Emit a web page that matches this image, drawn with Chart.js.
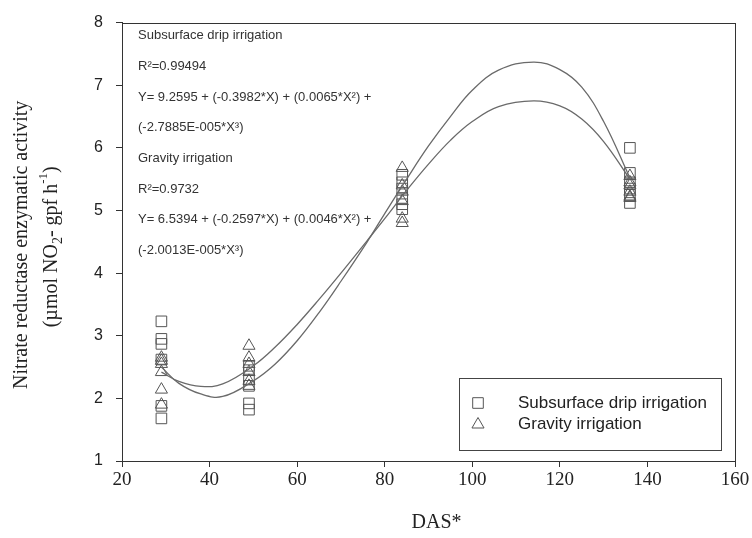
<!DOCTYPE html>
<html>
<head>
<meta charset="utf-8">
<script src="https://cdn.jsdelivr.net/npm/chart.js@4"></script>
<style>
  html, body { margin: 0; padding: 0; background: #fff; overflow: hidden; }
  #wrap { width: 752px; height: 538px; position: relative; }
</style>
</head>
<body>
<div id="wrap"><canvas id="c"></canvas></div>
<script>
// ---- data ----
const samplingDays = [29, 49, 84, 136];
const dripValues = [
  [3.23, 2.95, 2.87, 2.62, 1.88, 1.68],
  [2.52, 2.45, 2.30, 2.20, 1.92, 1.82],
  [5.57, 5.45, 5.35, 5.20, 5.10, 5.02],
  [6.00, 5.60, 5.45, 5.35, 5.25, 5.12]
];
const gravityValues = [
  [2.65, 2.60, 2.55, 2.42, 2.14, 1.90],
  [2.84, 2.65, 2.55, 2.42, 2.28, 2.20],
  [5.68, 5.40, 5.30, 5.15, 4.87, 4.80],
  [5.55, 5.45, 5.40, 5.30, 5.22, 5.20]
];
const fitDays = [29, 33, 38, 43, 50, 55, 60, 65, 70, 76, 80, 85, 90, 95, 100, 106, 114, 120, 125, 130, 136];
const dripFit = [2.50, 2.24, 2.07, 2.03, 2.28, 2.55, 2.92, 3.37, 3.87, 4.50, 4.95, 5.50, 6.03, 6.50, 6.92, 7.24, 7.37, 7.25, 6.97, 6.42, 5.52];
const gravityFit = [2.42, 2.27, 2.19, 2.23, 2.52, 2.82, 3.18, 3.58, 4.00, 4.52, 4.87, 5.32, 5.74, 6.12, 6.42, 6.66, 6.75, 6.67, 6.46, 6.10, 5.50];
const xTicks = [20, 40, 60, 80, 100, 120, 140, 160];
const yTicks = [1, 2, 3, 4, 5, 6, 7, 8];
const seriesNames = ['Subsurface drip irrigation', 'Gravity irrigation'];
const annotationLines = [
  'Subsurface drip irrigation',
  'R\u00B2=0.99494',
  'Y= 9.2595 + (-0.3982*X) + (0.0065*X\u00B2) +',
  '(-2.7885E-005*X\u00B3)',
  'Gravity irrigation',
  'R\u00B2=0.9732',
  'Y= 6.5394 + (-0.2597*X) + (0.0046*X\u00B2) +',
  '(-2.0013E-005*X\u00B3)'
];
const yTitleLine1 = 'Nitrate reductase enzymatic activity';
const xTitle = 'DAS*';

// ---- build datasets ----
function toPoints(days, groups) {
  const pts = [];
  days.forEach((d, i) => groups[i].forEach(v => pts.push({ x: d, y: v })));
  return pts;
}
function toLine(xs, ys) { return xs.map((x, i) => ({ x: x, y: ys[i] })); }

const SANS = "'Liberation Sans', Arial, sans-serif";
const SERIF = "'Liberation Serif', 'Times New Roman', serif";
const INK = '#333';
const MARK = '#555';

const overlay = {
  id: 'overlay',
  afterDatasetsDraw(chart) {
    const ctx = chart.ctx, a = chart.chartArea;
    ctx.save();
    // frame
    ctx.strokeStyle = INK; ctx.lineWidth = 1;
    ctx.strokeRect(Math.round(a.left) + 0.5, Math.round(a.top) + 0.5, Math.round(a.right - a.left), Math.round(a.bottom - a.top));
    // annotation text
    ctx.fillStyle = '#333';
    ctx.font = '13px ' + SANS;
    ctx.textBaseline = 'middle';
    ctx.textAlign = 'left';
    annotationLines.forEach((t, i) => ctx.fillText(t, a.left + 16, a.top + 13 + i * 30.7));
    // legend
    const lw = 262, lh = 72;
    const lx = a.right - 14 - lw, ly = a.bottom - 11 - lh;
    ctx.strokeStyle = '#444'; ctx.lineWidth = 1;
    ctx.strokeRect(Math.round(lx) + 0.5, Math.round(ly) + 0.5, lw, lh);
    const styles = ['rect', 'triangle'];
    const radii = [7.5, 7];
    ctx.font = '17px ' + SANS;
    seriesNames.forEach((name, i) => {
      const cy = ly + 25 + i * 21.5;
      ctx.fillStyle = 'rgba(0,0,0,0)';
      ctx.strokeStyle = MARK; ctx.lineWidth = 1;
      Chart.helpers.drawPoint(ctx, { pointStyle: styles[i], radius: radii[i], rotation: 0, borderWidth: 1 }, lx + 19, cy);
      ctx.fillStyle = '#222';
      ctx.fillText(name, lx + 59, cy);
    });
    // y-axis title (two lines, rotated)
    const cy = (a.top + a.bottom) / 2;
    ctx.save();
    ctx.translate(22, cy + 3);
    ctx.rotate(-Math.PI / 2);
    ctx.textAlign = 'center';
    ctx.font = '20px ' + SERIF;
    ctx.fillStyle = '#222';
    ctx.fillText(yTitleLine1, 0, 0);
    ctx.restore();
    ctx.save();
    ctx.translate(52, cy + 5);
    ctx.rotate(-Math.PI / 2);
    ctx.fillStyle = '#222';
    const parts = [
      { t: '(\u00B5mol NO', size: 20, dy: 0 },
      { t: '2', size: 14, dy: 6 },
      { t: '- gpf h', size: 20, dy: 0 },
      { t: '-1', size: 13, dy: -8 },
      { t: ')', size: 20, dy: 0 }
    ];
    let total = 0;
    parts.forEach(p => { ctx.font = p.size + 'px ' + SERIF; p.w = ctx.measureText(p.t).width; total += p.w; });
    let x = -total / 2;
    ctx.textAlign = 'left';
    parts.forEach(p => { ctx.font = p.size + 'px ' + SERIF; ctx.fillText(p.t, x, p.dy); x += p.w; });
    ctx.restore();
    // x-axis title
    ctx.font = '20px ' + SERIF;
    ctx.textAlign = 'center';
    ctx.fillStyle = '#222';
    ctx.fillText(xTitle, (a.left + a.right) / 2 + 8, 523);
    ctx.restore();
  }
};

new Chart(document.getElementById('c'), {
  type: 'scatter',
  data: {
    datasets: [
      {
        label: seriesNames[0] + ' fit', type: 'line', data: toLine(fitDays, dripFit),
        borderColor: '#6a6a6a', borderWidth: 1.3, pointRadius: 0, fill: false, tension: 0.4
      },
      {
        label: seriesNames[1] + ' fit', type: 'line', data: toLine(fitDays, gravityFit),
        borderColor: '#6a6a6a', borderWidth: 1.3, pointRadius: 0, fill: false, tension: 0.4
      },
      {
        label: seriesNames[0], data: toPoints(samplingDays, dripValues),
        pointStyle: 'rect', pointRadius: 7.5, pointBorderWidth: 1,
        pointBorderColor: MARK, pointBackgroundColor: 'rgba(0,0,0,0)'
      },
      {
        label: seriesNames[1], data: toPoints(samplingDays, gravityValues),
        pointStyle: 'triangle', pointRadius: 7, pointBorderWidth: 1,
        pointBorderColor: MARK, pointBackgroundColor: 'rgba(0,0,0,0)'
      }
    ]
  },
  options: {
    responsive: true,
    maintainAspectRatio: false,
    animation: false,
    layout: { padding: { top: 20, right: 17, left: 0, bottom: 0 } },
    plugins: { legend: { display: false }, tooltip: { enabled: false } },
    scales: {
      x: {
        type: 'linear', min: 20, max: 160,
        afterBuildTicks: s => { s.ticks = xTicks.map(v => ({ value: v })); },
        afterFit: s => { s.height = 77; },
        grid: { drawOnChartArea: false, drawTicks: true, tickLength: 6, color: INK },
        border: { display: true, color: INK },
        ticks: { color: '#222', font: { family: SERIF, size: 19 }, padding: 2, maxRotation: 0 }
      },
      y: {
        type: 'linear', min: 1, max: 8,
        afterBuildTicks: s => { s.ticks = yTicks.map(v => ({ value: v })); },
        afterFit: s => { s.width = 122; },
        grid: { drawOnChartArea: false, drawTicks: true, tickLength: 6, color: INK },
        border: { display: true, color: INK },
        ticks: { color: '#222', font: { family: SANS, size: 16 }, padding: 13 }
      }
    }
  },
  plugins: [overlay]
});
</script>
</body>
</html>
